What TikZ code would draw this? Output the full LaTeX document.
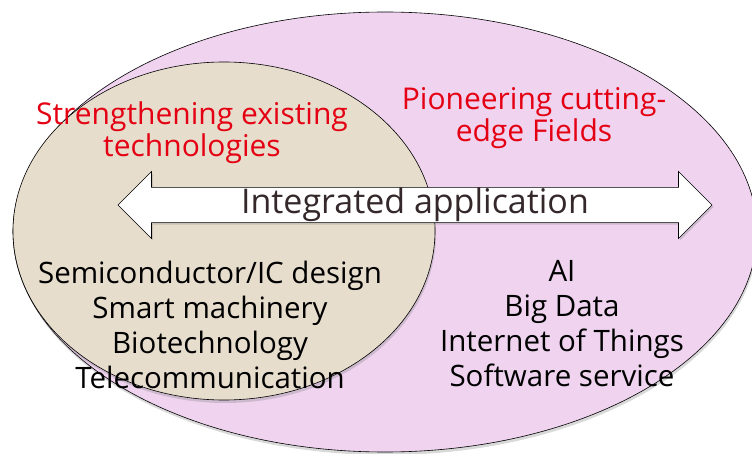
\documentclass[tikz,border=0pt]{standalone}
\usepackage{fontspec}
\setmainfont{Open Sans}
\usepackage{xcolor}
\usetikzlibrary{shapes.geometric,shapes.arrows,shadows}
\usetikzlibrary{positioning}
\definecolor{outerpink}{RGB}{239,211,239}
\definecolor{innertan}{RGB}{231,221,205}
\definecolor{titlered}{RGB}{228,0,18}
\definecolor{labelgray}{RGB}{52,40,42}

\begin{document}
\begin{tikzpicture}[x=1pt,y=-1pt,semithick]
 \tikzstyle{field}=[draw, ellipse, inner sep=0pt, drop shadow={shadow xshift=1pt,shadow yshift=-3pt,opacity=0.3}]
 \tikzstyle{title}=[text=titlered, align=center, inner sep=0pt, font=\fontsize{30}{32}\selectfont]
 \tikzstyle{items}=[text=black, align=center, inner sep=0pt, font=\fontsize{29.5}{35}\selectfont]
  \useasboundingbox (0,0) rectangle (752,454);
  \node[field, fill=outerpink, minimum width=744pt, minimum height=440pt] (new) at (385,232) {};
  \node[field, fill=innertan, minimum width=422pt, minimum height=338pt] (old) at (224,231) {};
  \node[draw, fill=white, double arrow, double arrow head extend=15.5pt, minimum height=594pt, minimum width=67pt, inner sep=0pt,
        drop shadow={shadow xshift=1.5pt,shadow yshift=-2pt,opacity=0.3},
        text=labelgray, font=\fontsize{34}{34}\selectfont] (link) at (415,205) {Integrated application};
  \node[title] (oldtitle) at (192,133) {Strengthening existing\\technologies};
  \node[title] (newtitle) at (534,118) {Pioneering cutting-\\edge Fields};
  \node[items] (olditems) at (210,325) {Semiconductor/IC design\\Smart machinery\\Biotechnology\\Telecommunication};
  \node[items] (newitems) at (562,324) {AI\\Big Data\\Internet of Things\\Software service};
\end{tikzpicture}
\end{document}
